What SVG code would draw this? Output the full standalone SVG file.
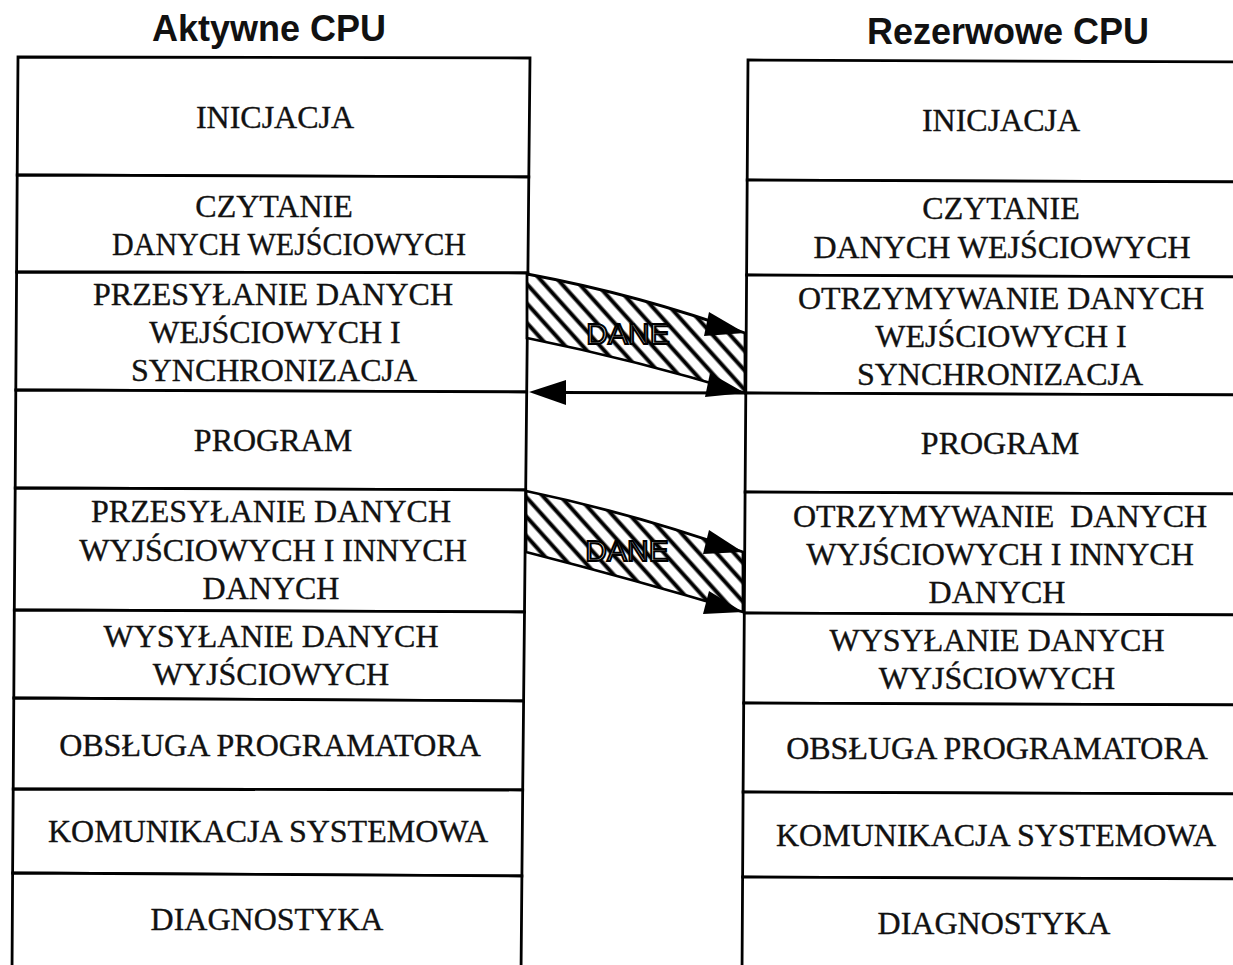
<svg xmlns="http://www.w3.org/2000/svg" width="1233" height="965" viewBox="0 0 1233 965">
<defs>
<style>
.box{fill:#fff;stroke:#000;stroke-width:2.8;stroke-linejoin:miter}
.t{font-family:"Liberation Serif","Times New Roman",serif;font-size:32px;fill:#111;stroke:#111;stroke-width:0.35;text-anchor:middle}
.h{font-family:"Liberation Sans",Arial,sans-serif;font-size:36px;font-weight:bold;fill:#111;text-anchor:middle}
.band{fill:url(#hatch);stroke:#000;stroke-width:2.8}
.dane{font-family:"Liberation Sans",Arial,sans-serif;font-size:30px;fill:#fff;stroke:#000;stroke-width:2;text-anchor:middle}
.ah{fill:#000}
</style>
<pattern id="hatch" patternUnits="userSpaceOnUse" width="13" height="13" patternTransform="rotate(-42)">
<rect width="13" height="13" fill="#fff"/>
<line x1="6.5" y1="0" x2="6.5" y2="13" stroke="#000" stroke-width="4"/>
</pattern>
</defs>
<rect width="1233" height="965" fill="#fff"/>
<text class="h" x="269" y="41">Aktywne CPU</text>
<text class="h" x="1008" y="44">Rezerwowe CPU</text>

<g id="a-inicjacja"><polygon class="box" points="18,57 530,58 528.8,177 17.2,175"/><text class="t" x="275" y="128">INICJACJA</text></g>
<g id="a-czytanie"><polygon class="box" points="17.2,175 528.8,177 527.9,273 16.6,272"/><text class="t" x="274" y="217">CZYTANIE</text><text class="t" x="289" y="255" textLength="354" lengthAdjust="spacingAndGlyphs">DANYCH WEJŚCIOWYCH</text></g>
<g id="a-przesylanie-we"><polygon class="box" points="16.6,272 527.9,273 526.7,392 15.8,390"/><text class="t" x="273" y="305">PRZESYŁANIE DANYCH</text><text class="t" x="275" y="343">WEJŚCIOWYCH I</text><text class="t" x="274" y="381">SYNCHRONIZACJA</text></g>
<g id="a-program"><polygon class="box" points="15.8,390 526.7,392 525.7,490 15.2,488"/><text class="t" x="273" y="451">PROGRAM</text></g>
<g id="a-przesylanie-wy"><polygon class="box" points="15.2,488 525.7,490 524.5,612 14.3,610"/><text class="t" x="271" y="522">PRZESYŁANIE DANYCH</text><text class="t" x="273" y="561">WYJŚCIOWYCH I INNYCH</text><text class="t" x="271" y="599">DANYCH</text></g>
<g id="a-wysylanie"><polygon class="box" points="14.3,610 524.5,612 523.6,701 13.8,698"/><text class="t" x="271" y="647">WYSYŁANIE DANYCH</text><text class="t" x="271" y="685">WYJŚCIOWYCH</text></g>
<g id="a-obsluga"><polygon class="box" points="13.8,698 523.6,701 522.7,790 13.2,789"/><text class="t" x="270" y="756">OBSŁUGA PROGRAMATORA</text></g>
<g id="a-komunikacja"><polygon class="box" points="13.2,789 522.7,790 521.9,876 12.6,873"/><text class="t" x="268" y="842">KOMUNIKACJA SYSTEMOWA</text></g>
<g id="a-diagnostyka"><polygon class="box" points="12.6,873 521.9,876 521,975 12,975"/><text class="t" x="267" y="930">DIAGNOSTYKA</text></g>

<g id="r-inicjacja"><polygon class="box" points="748,60 1245,62 1245,182 747.2,180"/><text class="t" x="1001" y="131">INICJACJA</text></g>
<g id="r-czytanie"><polygon class="box" points="747.2,180 1245,182 1245,277 746.6,275"/><text class="t" x="1001" y="219">CZYTANIE</text><text class="t" x="1002" y="258">DANYCH WEJŚCIOWYCH</text></g>
<g id="r-otrzymywanie-we"><polygon class="box" points="746.6,275 1245,277 1245,395 745.8,393"/><text class="t" x="1001" y="309">OTRZYMYWANIE DANYCH</text><text class="t" x="1001" y="347">WEJŚCIOWYCH I</text><text class="t" x="1000" y="385">SYNCHRONIZACJA</text></g>
<g id="r-program"><polygon class="box" points="745.8,393 1245,395 1245,494 745.1,492"/><text class="t" x="1000" y="454">PROGRAM</text></g>
<g id="r-otrzymywanie-wy"><polygon class="box" points="745.1,492 1245,494 1245,615 744.3,613"/><text class="t" x="1000" y="527" xml:space="preserve">OTRZYMYWANIE  DANYCH</text><text class="t" x="1000" y="565">WYJŚCIOWYCH I INNYCH</text><text class="t" x="997" y="603">DANYCH</text></g>
<g id="r-wysylanie"><polygon class="box" points="744.3,613 1245,615 1245,705 743.7,703"/><text class="t" x="997" y="651">WYSYŁANIE DANYCH</text><text class="t" x="997" y="689">WYJŚCIOWYCH</text></g>
<g id="r-obsluga"><polygon class="box" points="743.7,703 1245,705 1245,794 743.1,792"/><text class="t" x="997" y="759">OBSŁUGA PROGRAMATORA</text></g>
<g id="r-komunikacja"><polygon class="box" points="743.1,792 1245,794 1245,879 742.6,877"/><text class="t" x="996" y="846">KOMUNIKACJA SYSTEMOWA</text></g>
<g id="r-diagnostyka"><polygon class="box" points="742.6,877 1245,879 1245,975 742,975"/><text class="t" x="994" y="934">DIAGNOSTYKA</text></g>

<g id="connectors">
<path class="band" d="M527,274 Q640,295 745,333 L745,393 Q636,360 527,338 Z"/>
<text class="dane" x="628" y="344">DANE</text>
<polygon class="ah" points="745,333 709,312 704,336"/>
<polygon class="ah" points="745,393 710,373 705,397"/>
<line x1="745" y1="393" x2="560" y2="392.5" stroke="#000" stroke-width="2.8"/>
<polygon class="ah" points="529,392 566,380 566,405"/>
<path class="band" d="M526,491 Q636,514 743,552 L743,612 Q636,580 526,552 Z"/>
<text class="dane" x="627" y="561">DANE</text>
<polygon class="ah" points="743,552 709,530 703,554"/>
<polygon class="ah" points="743,612 709,591 703,614"/>
</g>
</svg>
